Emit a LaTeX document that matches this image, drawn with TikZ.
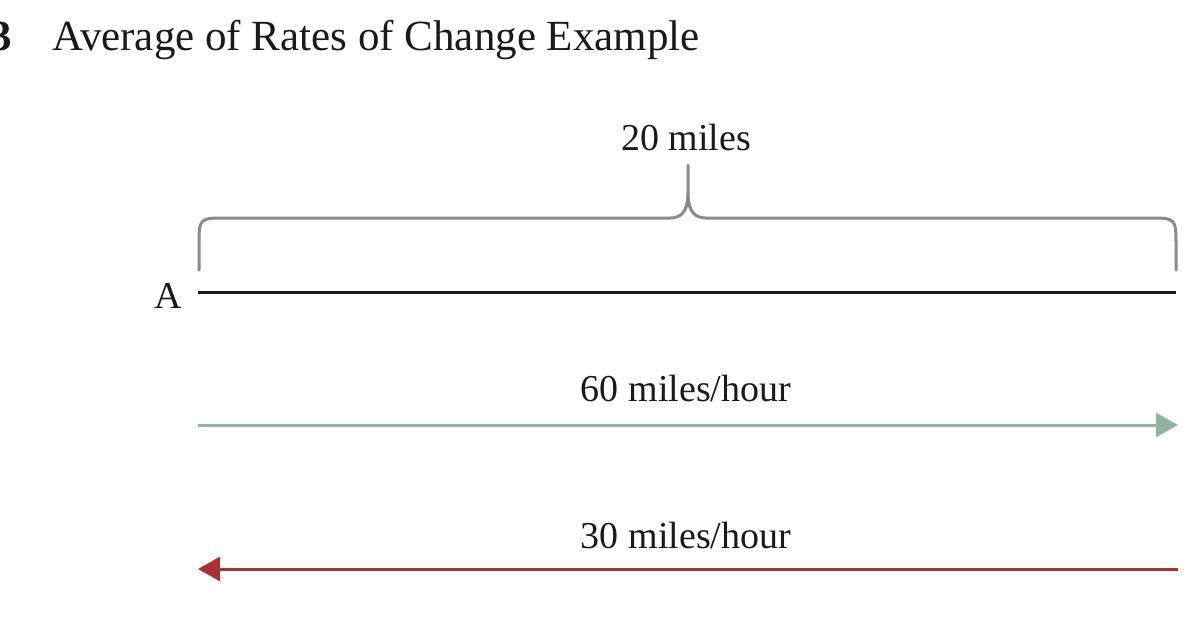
\documentclass[tikz,border=0pt]{standalone}
\usepackage{fontspec}
\setmainfont{Liberation Serif}
\usetikzlibrary{arrows.meta}
\definecolor{bracegray}{HTML}{8A8A8A}
\definecolor{sage}{HTML}{8FB5A0}
\definecolor{brick}{HTML}{A83232}
\definecolor{ink}{HTML}{1A1A1A}
\begin{document}
\begin{tikzpicture}[x=1pt,y=-1pt,
  lbl/.style={font=\fontsize{38}{42}\selectfont, text=ink, inner sep=0pt},
  ttl/.style={font=\fontsize{43}{47}\selectfont, text=ink, inner sep=0pt},
  segline/.style={line width=3pt, draw=ink},
  bracestyle/.style={line width=3pt, draw=bracegray, line cap=round},
  fastarrow/.style={line width=3pt, draw=sage, -{Triangle[length=22pt,width=24pt,fill=sage]}},
  slowarrow/.style={line width=3pt, draw=brick, -{Triangle[length=22pt,width=24pt,fill=brick]}}]
\useasboundingbox (0,0) rectangle (1200,622);
% title
\node[ttl, anchor=base east, font=\fontsize{43}{47}\selectfont\bfseries] (num) at (12,50) {3};
\node[ttl, anchor=base west] (title) at (52,50) {Average of Rates of Change Example};
% segment
\coordinate (Astart) at (198,292);
\coordinate (Bend) at (1176,292);
\node[lbl, anchor=base east] (A) at (182,308) {A};
\draw[segline] (Astart) -- (Bend);
% brace
\coordinate (bl) at (199,270);
\coordinate (br) at (1176,270);
\coordinate (peak) at (688,165);
\draw[bracestyle] (bl) -- (199,246) .. controls (199,218) .. (227,218) -- (670,218)
  .. controls (685,218) and (688,206) .. (688,192) -- (peak);
\draw[bracestyle] (br) -- (1176,246) .. controls (1176,218) .. (1148,218) -- (706,218)
  .. controls (691,218) and (688,206) .. (688,192);
\node[lbl, anchor=base] (dist) at (686,150) {20 miles};
% arrows
\coordinate (g1) at (198,425);
\coordinate (g2) at (1178,425);
\draw[fastarrow] (g1) -- (g2);
\node[lbl, anchor=base] (fast) at (686,401) {60 miles/hour};
\coordinate (r1) at (1178,569);
\coordinate (r2) at (198,569);
\draw[slowarrow] (r1) -- (r2);
\node[lbl, anchor=base] (slow) at (686,548) {30 miles/hour};
\end{tikzpicture}
\end{document}
